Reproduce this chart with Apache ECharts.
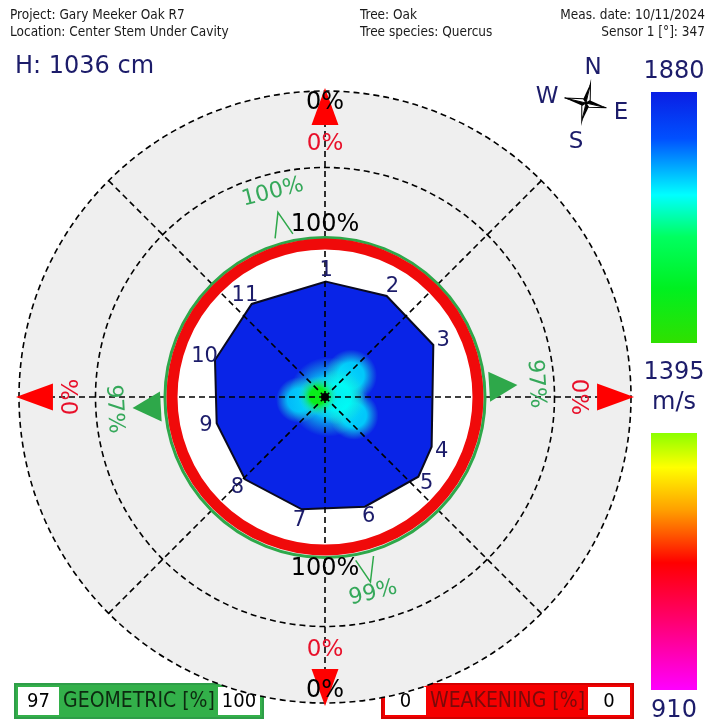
<!DOCTYPE html>
<html><head><meta charset="utf-8">
<script src="https://cdn.jsdelivr.net/npm/echarts@6/dist/echarts.min.js"></script>
<style>html,body{margin:0;padding:0;background:#fff}#c{width:707px;height:724px}</style>
</head><body><div id="c"></div>
<script>
// ---------------- data ----------------
const sensorLabels = ['1','2','3','4','5','6','7','8','9','10','11'];
const sensorX = [0.7, 40.3, 70.8, 69.7, 61.0, 26.1, -15.2, -52.3, -70.8, -71.9, -47.9];
const sensorY = [75.4, 66.0, 34.0, -32.5, -52.1, -71.7, -73.4, -53.8, -17.2, 24.2, 60.8];
const blobX = [2, 17, 19, -17, 8, -4.6];
const blobY = [0, 14, -12, -2, 0, 0.7];
const blobR = [26, 17, 16, 15, 18, 13];
const blobVel = [1700, 1690, 1690, 1700, 1675, 1480];
const bodyVel = 1870;
const refCircles = [150, 200];
const axisBearings = [0, 45, 90, 135, 180, 225, 270, 315];
const dirBearings = [0, 90, 180, 270];
const weakValues = [0, 0, 0, 0];
const geomBearings = [345.7, 86.4, 166.2, 266.7];
const geomValues = [100, 97, 99, 97];
const innerPct = [100, null, 100, null];
const outerPct = [0, null, 0, null];
const geomMin = 97, geomMax = 100, weakMin = 0, weakMax = 0;
const velMax = 1880, velMid = 1395, velMin = 910;
const heightCm = 1036;
const headerLeft = ['Project: Gary Meeker Oak R7', 'Location: Center Stem Under Cavity'];
const headerMid = ['Tree: Oak', 'Tree species: Quercus'];
const headerRight = ['Meas. date: 10/11/2024', 'Sensor 1 [°]: 347'];
const velStops = [
  [1880,'#0a1ee4'],[1790,'#0050ff'],[1681,'#00ffff'],[1600,'#00ff60'],[1500,'#00f020'],[1395.01,'#30e000'],
  [1395,'#8cff00'],[1330,'#ffff00'],[1250,'#ffa000'],[1205,'#ff5a00'],[1150,'#ff0000'],[1040,'#ff0070'],[910,'#ff00ff']
];
// --------------------------------------

function hex(c){return [parseInt(c.slice(1,3),16),parseInt(c.slice(3,5),16),parseInt(c.slice(5,7),16)];}
function velColor(v){
  const s = velStops.slice().sort((a,b)=>a[0]-b[0]);
  if (v<=s[0][0]) return s[0][1];
  for (let i=1;i<s.length;i++){
    if (v<=s[i][0]){
      const t=(v-s[i-1][0])/(s[i][0]-s[i-1][0]);
      const a=hex(s[i-1][1]), b=hex(s[i][1]);
      return 'rgb('+a.map((x,k)=>Math.round(x+(b[k]-x)*t)).join(',')+')';
    }
  }
  return s[s.length-1][1];
}
function barStops(hi, lo){
  return velStops.filter(s=>s[0]<=hi+0.02 && s[0]>=lo-0.02)
    .map(s=>({offset:Math.min(1,Math.max(0,(hi-s[0])/(hi-lo))), color:s[1]}));
}
const rad = d => d*Math.PI/180;
function polar(api, r, b){ return api.coord([r*Math.sin(rad(b)), r*Math.cos(rad(b))]); }
function rotFor(b){ return (b>90 && b<270) ? rad(180-b) : rad(-b); }
const DASH = {stroke:'#000', lineWidth:1.6, lineDash:[6,4]};
const navy = '#1c1c6a';
const FONT = 'DejaVu Sans';
const NARROW = '"Liberation Sans Narrow","Arial Narrow","DejaVu Sans Condensed",sans-serif';

const chart = echarts.init(document.getElementById('c'), null, {renderer:'canvas'});

const series = [];
// reference circles
series.push({type:'custom', coordinateSystem:'cartesian2d', clip:false, z:1,
  data: refCircles.map(r=>[r]),
  renderItem:(p,api)=>{
    const c=api.coord([0,0]), r=api.size([api.value(0),0])[0];
    const outer = api.value(0)===Math.max(...refCircles);
    return {type:'circle', shape:{cx:c[0],cy:c[1],r:r}, style:Object.assign({fill: outer?'#efefef':'none'}, DASH), z2: outer?0:1};
  }});
// white stem disk
series.push({type:'custom', coordinateSystem:'cartesian2d', clip:false, z:2, data:[[100]],
  renderItem:(p,api)=>{const c=api.coord([0,0]), r=api.size([api.value(0),0])[0];
    return {type:'circle', shape:{cx:c[0],cy:c[1],r:r}, style:{fill:'#fff'}};}});
// tomogram polygon
series.push({type:'custom', coordinateSystem:'cartesian2d', clip:false, z:3,
  data: sensorX.map((x,i)=>[x,sensorY[i]]),
  renderItem:(p,api)=>{
    if (p.dataIndex!==0) return null;
    const pts = sensorX.map((x,i)=>api.coord([x,sensorY[i]]));
    return {type:'polygon', shape:{points:pts}, style:{fill:velColor(bodyVel), stroke:'#0a0a20', lineWidth:2}};
  }});
// velocity blobs
series.push({type:'custom', coordinateSystem:'cartesian2d', clip:false, z:4,
  data: blobX.map((x,i)=>[x,blobY[i],blobR[i],blobVel[i]]),
  renderItem:(p,api)=>{
    const c=api.coord([api.value(0),api.value(1)]), r=api.size([api.value(2),0])[0];
    const col=velColor(api.value(3));
    const core = api.value(3) < 1600;
    return {type:'circle', shape:{cx:c[0],cy:c[1],r:r},
      style:{opacity: core?1:0.8, fill:new echarts.graphic.RadialGradient(0.5,0.5,0.5,[
        {offset:0,color:col},{offset:core?0.4:0.5,color:col},{offset:1,color:'rgba(40,220,200,0)'}])}};
  }});
// radial dashed axes
series.push({type:'custom', coordinateSystem:'cartesian2d', clip:false, z:5,
  data: axisBearings.map(b=>[b]),
  renderItem:(p,api)=>{
    const c=api.coord([0,0]), e=polar(api, 200, api.value(0));
    return {type:'line', shape:{x1:c[0],y1:c[1],x2:e[0],y2:e[1]}, style:Object.assign({}, DASH)};
  }});
// rings
series.push({type:'custom', coordinateSystem:'cartesian2d', clip:false, z:6, data:[[100]],
  renderItem:(p,api)=>{const c=api.coord([0,0]);
    const rg=api.size([api.value(0)*1.046,0])[0], rr=api.size([api.value(0),0])[0];
    return {type:'group', children:[
      {type:'circle', shape:{cx:c[0],cy:c[1]+0.5,r:rg}, style:{fill:'none', stroke:'#2ea84a', lineWidth:3}},
      {type:'circle', shape:{cx:c[0],cy:c[1],r:rr}, style:{fill:'none', stroke:'#f00a0a', lineWidth:11}}
    ]};}});
// centre dot
series.push({type:'custom', coordinateSystem:'cartesian2d', clip:false, z:7, data:[[0,0]],
  renderItem:(p,api)=>{const c=api.coord([api.value(0),api.value(1)]);
    return {type:'circle', shape:{cx:c[0],cy:c[1],r:4}, style:{fill:'#000'}};}});
// sensor labels
series.push({type:'custom', coordinateSystem:'cartesian2d', clip:false, z:8,
  data: sensorX.map((x,i)=>[x,sensorY[i]]),
  renderItem:(p,api)=>{
    const c=api.coord([0,0]), q=api.coord([api.value(0),api.value(1)]);
    const dx=q[0]-c[0], dy=q[1]-c[1], L=Math.hypot(dx,dy);
    return {type:'text', x:q[0]+dx/L*11, y:q[1]+dy/L*11,
      style:{text:sensorLabels[p.dataIndex], fill:navy, fontSize:21, fontFamily:FONT, align:'center', verticalAlign:'middle'}};
  }});
// weakening (red) markers
series.push({type:'custom', coordinateSystem:'cartesian2d', clip:false, z:9,
  data: dirBearings.map((b,i)=>[b, weakValues[i]]),
  renderItem:(p,api)=>{
    const b=api.value(0), B=rad(b);
    const apex=polar(api,202,b);
    const bx=177.8*Math.sin(B), by=177.8*Math.cos(B), hw=8.8;
    const b1=api.coord([bx+hw*Math.cos(B), by-hw*Math.sin(B)]);
    const b2=api.coord([bx-hw*Math.cos(B), by+hw*Math.sin(B)]);
    const lp=polar(api,165.5,b);
    return {type:'group', children:[
      {type:'polygon', shape:{points:[apex,b1,b2]}, style:{fill:'#f00'}},
      {type:'text', x:lp[0], y:lp[1], rotation:rotFor(b),
        style:{text:api.value(1)+'%', fill:'#e8102a', fontSize:23, fontFamily:FONT, align:'center', verticalAlign:'middle'}}
    ]};
  }});
// black percentage labels
series.push({type:'custom', coordinateSystem:'cartesian2d', clip:false, z:10,
  data: dirBearings.map((b,i)=>[b, innerPct[i], outerPct[i]]).filter(d=>d[1]!==null),
  renderItem:(p,api)=>{
    const b=api.value(0), a=polar(api,112.5,b), o=polar(api,192,b);
    const st={fill:'#000', fontSize:24, fontFamily:FONT, align:'center', verticalAlign:'middle'};
    return {type:'group', children:[
      {type:'text', x:a[0], y:a[1], rotation:rotFor(b), style:Object.assign({text:api.value(1)+'%'},st)},
      {type:'text', x:o[0], y:o[1], rotation:rotFor(b), style:Object.assign({text:api.value(2)+'%'},st)}
    ]};
  }});
// geometric (green) markers
series.push({type:'custom', coordinateSystem:'cartesian2d', clip:false, z:9,
  data: geomBearings.map((b,i)=>[b, geomValues[i]]),
  renderItem:(p,api)=>{
    const b=api.value(0), B=rad(b), filled = api.value(1) < 98;
    const ra = filled?126:124.5, rb = filled?107.5:108.5, hw = filled?9.8:6;
    const apex=polar(api,ra,b);
    const bx=rb*Math.sin(B), by=rb*Math.cos(B);
    const b1=api.coord([bx+hw*Math.cos(B), by-hw*Math.sin(B)]);
    const b2=api.coord([bx-hw*Math.cos(B), by+hw*Math.sin(B)]);
    const lp=polar(api, b>90&&b<270 && b<200 ? 132 : 138, b);
    const tri = filled
      ? {type:'polygon', shape:{points:[apex,b1,b2]}, style:{fill:'#2ea84a'}}
      : {type:'polyline', shape:{points:[b1,apex,b2]}, style:{fill:'none', stroke:'#2ea84a', lineWidth:1.5}};
    return {type:'group', children:[tri,
      {type:'text', x:lp[0], y:lp[1], rotation:rotFor(b),
        style:{text:api.value(1)+'%', fill:'#35a85a', fontSize:22, fontFamily:FONT, align:'center', verticalAlign:'middle'}}
    ]};
  }});

// ---------- graphic (header, legend, compass, boxes) ----------
const g = [];
const HF = '13.5px '+NARROW;
headerLeft.forEach((t,i)=>g.push({type:'text', left:10, top:8+i*17, style:{text:t, fill:'#1a1a1a', font:HF}}));
headerMid.forEach((t,i)=>g.push({type:'text', left:360, top:8+i*17, style:{text:t, fill:'#1a1a1a', font:HF}}));
headerRight.forEach((t,i)=>g.push({type:'text', right:2, top:8+i*17, style:{text:t, fill:'#1a1a1a', font:HF, align:'right'}}));
g.push({type:'text', left:15, top:55, style:{text:'H: '+heightCm+' cm', fill:navy, font:'24px '+FONT}});
// colour bar
g.push({type:'rect', shape:{x:651,y:92,width:46,height:251}, style:{fill:new echarts.graphic.LinearGradient(0,0,0,1,barStops(velMax,velMid))}});
g.push({type:'rect', shape:{x:651,y:433,width:46,height:257}, style:{fill:new echarts.graphic.LinearGradient(0,0,0,1,barStops(velMid,velMin))}});
[[String(velMax),72],[String(velMid),373],['m/s',403],[String(velMin),711]].forEach(a=>
  g.push({type:'text', x:674, y:a[1], style:{text:a[0], fill:navy, font:'24px '+FONT, align:'center', verticalAlign:'middle'}}));
// compass
const arms=[];
[0,90,180,270].forEach((ang,k)=>{
  const L=[20,21,19,22][k], w=3.5, A=rad(ang);
  const rot=(x,y)=>[x*Math.cos(A)-y*Math.sin(A), x*Math.sin(A)+y*Math.cos(A)];
  const tip=rot(0,-L), s1=rot(-w,-w), s2=rot(w,-w);
  arms.push({type:'polygon', shape:{points:[[0,0],tip,s1]}, style:{fill:'#000'}});
  arms.push({type:'polygon', shape:{points:[[0,0],tip,s2]}, style:{fill:'#fff', stroke:'#000', lineWidth:1}});
});
g.push({type:'group', x:586, y:103, rotation:rad(-13), children:arms});
[['N',593,68],['W',547,97],['E',621,113],['S',576,142]].forEach(a=>
  g.push({type:'text', x:a[1], y:a[2], style:{text:a[0], fill:navy, font:'23px '+FONT, align:'center', verticalAlign:'middle'}}));
// summary boxes
function box(x, w, fill, border, label, labelCol, vmin, vmax){
  g.push({type:'rect', shape:{x:x,y:684,width:w,height:34}, style:{fill:fill, stroke:border, lineWidth:2}});
  g.push({type:'rect', shape:{x:x+3,y:687,width:41,height:28}, style:{fill:'#fff'}});
  g.push({type:'rect', shape:{x:x+w-45,y:687,width:42,height:28}, style:{fill:'#fff'}});
  g.push({type:'text', x:x+23.5, y:701.5, style:{text:String(vmin), fill:'#000', font:'20px '+NARROW, align:'center', verticalAlign:'middle'}});
  g.push({type:'text', x:x+w-24, y:701.5, style:{text:String(vmax), fill:'#000', font:'20px '+NARROW, align:'center', verticalAlign:'middle'}});
  g.push({type:'text', x:x+w/2, y:701.5, style:{text:label, fill:labelCol, font:'21px '+NARROW, align:'center', verticalAlign:'middle'}});
}
box(15, 248, '#33b04a', '#2e9e48', 'GEOMETRIC [%]', '#0d2a10', geomMin, geomMax);
box(382, 251, '#f50000', '#d40000', 'WEAKENING [%]', '#7a0a0a', weakMin, weakMax);

chart.setOption({
  animation:false,
  backgroundColor:'#fff',
  grid:{left:19, top:91, width:612, height:612},
  xAxis:{type:'value', min:-200, max:200, show:false},
  yAxis:{type:'value', min:-200, max:200, show:false},
  series: series,
  graphic: g
});
</script></body></html>
